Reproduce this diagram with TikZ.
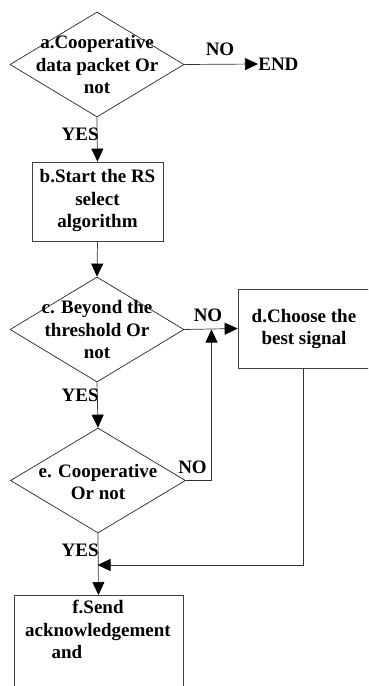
\documentclass[tikz,border=0pt]{standalone}
\usepackage{fontspec}
\setmainfont{Liberation Serif}
\usetikzlibrary{shapes.geometric,arrows.meta}

\begin{document}
\begin{tikzpicture}[x=1pt,y=1pt,
  font=\bfseries\fontsize{19}{22.5}\selectfont,
  line width=0.7pt,
  dia/.style={draw=black!85, shape=diamond, inner sep=0pt,
    minimum width=174pt, minimum height=105pt},
  boxn/.style={draw=black!75, rectangle, inner sep=0pt,
    minimum width=131pt, minimum height=79pt},
  txt/.style={align=center, inner sep=0pt},
  lbl/.style={inner sep=0pt},
  arr/.style={draw=black!80,
    -{Triangle[width=12pt,length=13pt,color=black,fill=black]}}]

\useasboundingbox (0,0) rectangle (368,-686);
\clip (0,0) rectangle (368,-686);

% decision and process shapes
\node[dia]  (a) at (97,-64.5) {};
\node[txt]  (at) at (97,-64.5) {a.Cooperative\\data packet Or\\not};

\node[lbl, anchor=west] (end) at (258,-64) {END};

\node[boxn] (b) at (97.5,-201.5) {};
\node[txt]  (bt) at (97.5,-200.5) {b.Start the RS\\select\\algorithm};

\node[dia]  (c) at (97,-329.5) {};
\node[txt]  (ct) at (97,-329.5) {c. Beyond the\\threshold Or\\not};

\node[boxn] (d) at (303.5,-328.5) {};
\node[txt]  (dt) at (304,-329) {d.Choose the\\best signal};

\node[dia, minimum width=175pt] (e) at (98,-480.5) {};
\node[txt]  (et) at (98,-482) {e. Cooperative\\Or not};

\node[draw=black!75, rectangle, inner sep=0pt,
  minimum width=169pt, minimum height=130pt, anchor=north] (f) at (98.5,-595) {};
\node[txt, anchor=north] (ft) at (98,-600)
  {f.Send\\acknowledgement\\and\hspace*{62pt}};

% junction points of the feedback lines
\coordinate (j) at (211.5,-329.5);
\coordinate (k) at (97.5,-565);

% connectors
\draw[arr] (a.east) -- (end.west);
\draw[arr] (a.south) -- (b.north);
\draw[arr] (b.south) -- (c.north);
\draw[arr] (c.east) -- (d.west);
\draw[arr] (c.south) -- (e.north);
\draw[arr] (e.south) -- (f.north);
\draw[arr] (e.east) -| (j);
\draw[arr] (d.south) |- (k);

% branch labels
\node[lbl, anchor=base] (no1) at (220,-55) {NO};
\node[lbl, anchor=base] (no2) at (208,-321) {NO};
\node[lbl, anchor=base] (no3) at (192.5,-473) {NO};
\node[lbl, anchor=base east] (yes1) at (99,-140) {YES};
\node[lbl, anchor=base east] (yes2) at (99,-401) {YES};
\node[lbl, anchor=base east] (yes3) at (99,-556) {YES};

\end{tikzpicture}
\end{document}
